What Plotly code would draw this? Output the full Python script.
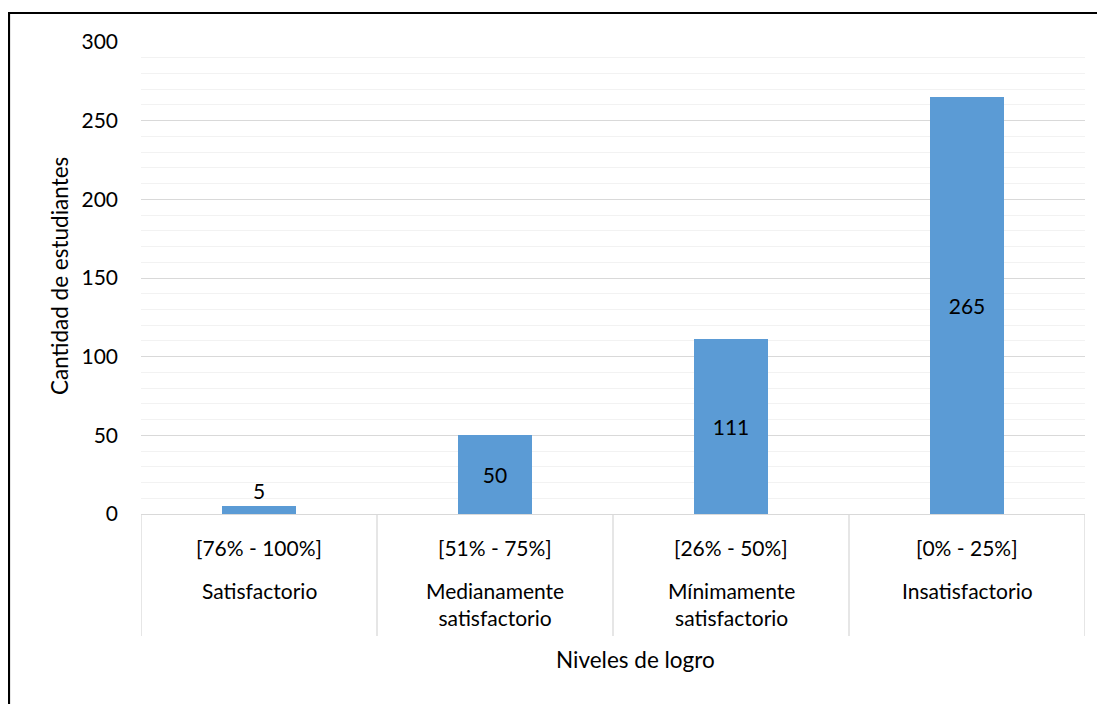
import plotly.graph_objects as go

categories = ["Satisfactorio", "Medianamente<br>satisfactorio", "Mínimamente<br>satisfactorio", "Insatisfactorio"]
ranges = ["[76% - 100%]", "[51% - 75%]", "[26% - 50%]", "[0% - 25%]"]
values = [5, 50, 111, 265]

# page offset of the figure (body margin)
OX, OY = 8, 8
W, H = 1097, 696
# plot area in page pixels
PL, PR, PT, PB = 141, 1085, 42, 514
L, T = PL - OX, PT - OY
R = W - (PR - OX)
B = H - (PB - OY)
pw, ph = PR - PL, PB - PT

def px_x(px):
    return (px - PL) / pw

def px_y(py):
    return (PB - py) / ph

FONT = "Lato"
FS = 21
TS = 22.5
BLUE = "#5B9BD5"
GRID = "#D9D9D9"
MINOR = "#F2F2F2"

xs = list(range(len(values)))
fig = go.Figure(go.Bar(
    x=xs, y=values,
    marker=dict(color=BLUE, line=dict(width=0)),
    width=0.314,
    text=[str(v) for v in values],
    textposition=["outside", "inside", "inside", "inside"],
    insidetextanchor="middle",
    textfont=dict(family=FONT, size=FS, color="#000000"),
    outsidetextfont=dict(family=FONT, size=FS, color="#000000"),
    insidetextfont=dict(family=FONT, size=FS, color="#000000"),
    cliponaxis=False,
))

shapes = []
for i in range(len(values) + 1):
    shapes.append(dict(type="line", xref="x", yref="paper", x0=i - 0.5, x1=i - 0.5,
                       y0=0, y1=px_y(636), line=dict(color=GRID, width=1.3)))
shapes.append(dict(type="rect", xref="paper", yref="paper",
                   x0=px_x(9), x1=px_x(1130), y0=px_y(730), y1=px_y(13),
                   line=dict(color="#000000", width=2.2), fillcolor="rgba(0,0,0,0)", layer="above"))

annotations = []
for i, (rg, cat) in enumerate(zip(ranges, categories)):
    annotations.append(dict(x=i, xref="x", y=px_y(547), yref="paper", text=rg, showarrow=False,
                            font=dict(family=FONT, size=FS, color="#000000"), yanchor="middle"))
    annotations.append(dict(x=i, xref="x", y=px_y(576), yref="paper", text=cat, showarrow=False,
                            font=dict(family=FONT, size=FS, color="#000000"), yanchor="top"))
annotations.append(dict(x=px_x(635), xref="paper", y=px_y(659), yref="paper", text="Niveles de logro",
                        showarrow=False, font=dict(family=FONT, size=TS, color="#000000"),
                        xanchor="center", yanchor="middle"))
annotations.append(dict(x=px_x(59), xref="paper", y=px_y(276), yref="paper", text="Cantidad de estudiantes",
                        showarrow=False, textangle=-90, font=dict(family=FONT, size=TS, color="#000000"),
                        xanchor="center", yanchor="middle"))

fig.update_layout(
    width=W, height=H,
    margin=dict(l=L, r=R, t=T, b=B, autoexpand=False),
    paper_bgcolor="white", plot_bgcolor="white",
    showlegend=False,
    bargap=0,
    shapes=shapes,
    annotations=annotations,
    font=dict(family=FONT, size=FS, color="#000000"),
    xaxis=dict(range=[-0.5, 3.5], showticklabels=False, showgrid=False, zeroline=False,
               showline=False, ticks=""),
    yaxis=dict(range=[0, 300], dtick=50, tick0=0, showgrid=True, gridcolor=GRID, gridwidth=1.3,
               zeroline=True, zerolinecolor=GRID, zerolinewidth=1.3,
               showline=False, ticks="", ticklabelstandoff=22,
               tickfont=dict(family=FONT, size=FS, color="#000000"),
               minor=dict(dtick=10, tick0=0, showgrid=True, gridcolor=MINOR, gridwidth=1.3)),
)

fig.write_html("out.html")
